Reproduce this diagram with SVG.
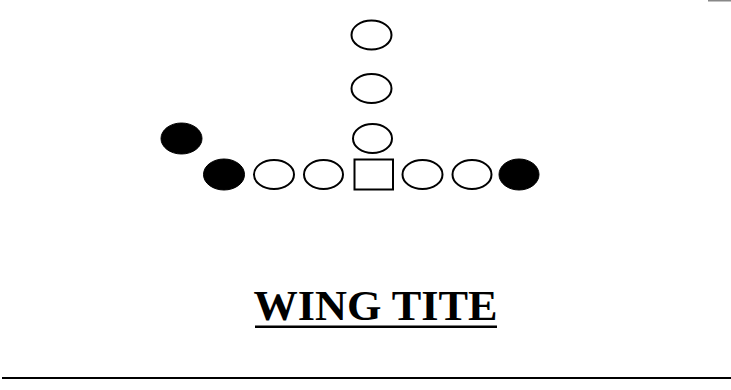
<svg xmlns="http://www.w3.org/2000/svg" width="731" height="390" viewBox="0 0 731 390">
<style>
.o{fill:#fff;stroke:#000;stroke-width:2}
.d{fill:#000;stroke:#000;stroke-width:1}
.t{font-family:"Liberation Serif","Times New Roman",serif;font-weight:bold;font-size:42px;fill:#000}
</style>
<rect width="731" height="390" fill="#fff"/>
<g id="back1"><ellipse class="o" cx="371.5" cy="35" rx="20" ry="14.5"/></g>
<g id="back2"><ellipse class="o" cx="371.5" cy="88.5" rx="20" ry="14.5"/></g>
<g id="back3"><ellipse class="o" cx="372.5" cy="138.5" rx="19.5" ry="14.5"/></g>
<g id="wing"><ellipse class="d" cx="181.5" cy="138.5" rx="20.5" ry="15.5"/></g>
<g id="end-left"><ellipse class="d" cx="224" cy="174.5" rx="20.5" ry="15.5"/></g>
<g id="tackle-left"><ellipse class="o" cx="274" cy="174.5" rx="20" ry="14.5"/></g>
<g id="guard-left"><ellipse class="o" cx="323.5" cy="174.5" rx="19.5" ry="14.5"/></g>
<g id="center"><rect class="o" x="354.5" y="159.5" width="38.5" height="30"/></g>
<g id="guard-right"><ellipse class="o" cx="422.5" cy="174.5" rx="20" ry="14.5"/></g>
<g id="tackle-right"><ellipse class="o" cx="472" cy="174.5" rx="19.5" ry="14.5"/></g>
<g id="end-right"><ellipse class="d" cx="519" cy="174.5" rx="20" ry="15.5"/></g>
<g id="connectors"></g>
<g id="title">
<text class="t" x="375.5" y="320" text-anchor="middle" textLength="244" lengthAdjust="spacingAndGlyphs">WING TITE</text>
<rect x="255" y="325.5" width="242" height="2.5" fill="#000"/>
</g>
<rect x="2" y="377" width="729" height="2" fill="#000"/>
<rect x="708" y="0" width="23" height="1.5" fill="#888"/>
</svg>
